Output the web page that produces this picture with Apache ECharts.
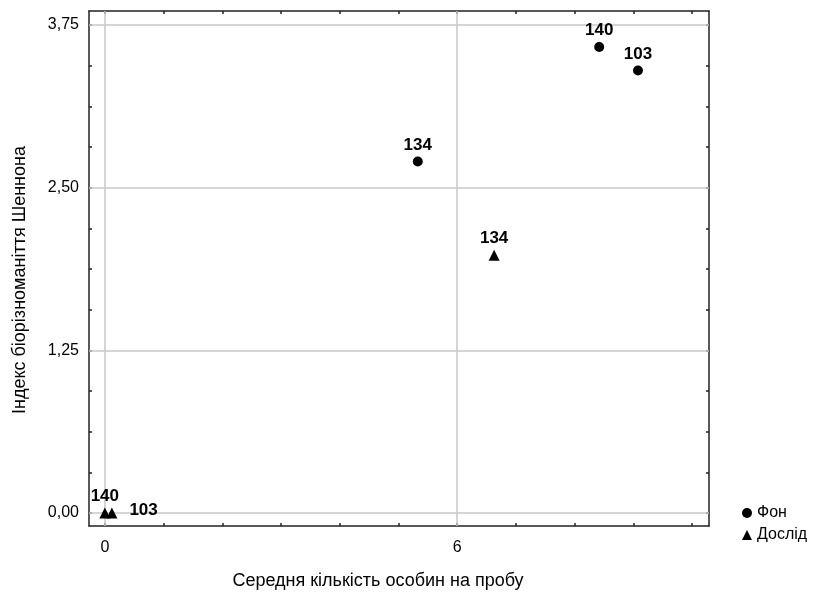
<!DOCTYPE html>
<html>
<head>
<meta charset="utf-8">
<script src="https://cdn.jsdelivr.net/npm/echarts@6/dist/echarts.min.js"></script>
<style>html,body{margin:0;padding:0;background:#fff;}#c{width:819px;height:592px;}</style>
</head>
<body>
<div id="c"></div>
<script>
// ---- data ----
var seriesNames = ['Фон', 'Дослід'];
var fonX = [5.33, 8.42, 9.08];
var fonY = [2.70, 3.58, 3.40];
var fonLabels = ['134', '140', '103'];
var doslidX = [6.63, 0.0, 0.12];
var doslidY = [1.98, 0.0, 0.0];
var doslidLabels = ['134', '140', '103'];
var xTickLabels = [0, 6];
var yTickLabels = [0, 1.25, 2.5, 3.75];
var xMinorTicks = [0, 1, 2, 3, 4, 5, 6, 7, 8, 9, 10];
var yMinorTicks = [0, 0.3125, 0.625, 0.9375, 1.25, 1.5625, 1.875, 2.1875, 2.5, 2.8125, 3.125, 3.4375, 3.75];
var xTitle = 'Середня кількість особин на пробу';
var yTitle = 'Індекс біорізноманіття Шеннона';

var FONT = '"Liberation Sans", Arial, sans-serif';
var AXC = '#222';
var TXT = '#000';
var labelStyle = {show: true, position: 'top', distance: 3, fontFamily: FONT, fontWeight: 'bold', fontSize: 17, color: TXT};

function build(xs, ys, labs) {
  return xs.map(function (x, i) {
    return {value: [x, ys[i]], name: labs[i], label: {formatter: labs[i]}};
  });
}
var fonData = build(fonX, fonY, fonLabels);
var doslidData = build(doslidX, doslidY, doslidLabels);
// the label of the second zero-point sits to its right
doslidData[2].label = {formatter: doslidLabels[2], position: 'right', distance: 12, offset: [0, -3]};

var fmtY = function (v) { return v.toFixed(2).replace('.', ','); };

var axisBase = {
  type: 'value',
  axisLine: {show: true, onZero: false, lineStyle: {color: AXC, width: 1.5}},
  splitLine: {show: false},
  axisTick: {show: true, inside: true, length: 3, lineStyle: {color: AXC, width: 1.5}}
};

var chart = echarts.init(document.getElementById('c'), null, {renderer: 'canvas'});
chart.setOption({
  animation: false,
  backgroundColor: '#fff',
  grid: {left: 89, top: 11, right: 110, bottom: 66, containLabel: false},
  legend: {
    orient: 'vertical', left: 737, top: 500, itemWidth: 10, itemHeight: 10, itemGap: 6,
    data: seriesNames,
    textStyle: {fontFamily: FONT, fontSize: 16, color: TXT}
  },
  graphic: [
    {type: 'text', x: 378, y: 581, silent: true,
     style: {text: xTitle, font: '18px "Liberation Sans", Arial, sans-serif', fill: TXT, textAlign: 'center', textVerticalAlign: 'middle'}},
    {type: 'text', x: 20, y: 280, rotation: Math.PI / 2, silent: true,
     style: {text: yTitle, font: '18px "Liberation Sans", Arial, sans-serif', fill: TXT, textAlign: 'center', textVerticalAlign: 'middle'}}
  ],
  xAxis: [
    Object.assign({}, axisBase, {
      position: 'bottom', min: -0.27, max: 10.29,
      axisTick: Object.assign({}, axisBase.axisTick, {customValues: xMinorTicks}),
      axisLabel: {customValues: xTickLabels, fontFamily: FONT, fontSize: 16, color: TXT, margin: 14}
    }),
    Object.assign({}, axisBase, {
      position: 'top', min: -0.27, max: 10.29,
      axisTick: Object.assign({}, axisBase.axisTick, {customValues: xMinorTicks}),
      axisLabel: {show: false}
    })
  ],
  yAxis: [
    Object.assign({}, axisBase, {
      position: 'left', min: -0.1, max: 3.857,
      axisTick: Object.assign({}, axisBase.axisTick, {customValues: yMinorTicks}),
      axisLabel: {customValues: yTickLabels, formatter: fmtY, fontFamily: FONT, fontSize: 16, color: TXT, margin: 10}
    }),
    Object.assign({}, axisBase, {
      position: 'right', min: -0.1, max: 3.857,
      axisTick: Object.assign({}, axisBase.axisTick, {customValues: yMinorTicks}),
      axisLabel: {show: false}
    })
  ],
  series: [
    {
      name: 'grid', type: 'scatter', data: [], z: 1, silent: true,
      markLine: {
        silent: true, symbol: 'none', label: {show: false}, animation: false,
        lineStyle: {color: '#c8c8c8', width: 1.5, type: 'solid'},
        data: xTickLabels.map(function (v) { return {xAxis: v}; })
          .concat(yTickLabels.map(function (v) { return {yAxis: v}; }))
      }
    },
    {
      name: seriesNames[0], type: 'scatter', symbol: 'circle', symbolSize: 10, z: 5,
      itemStyle: {color: '#000', opacity: 1}, label: labelStyle, data: fonData
    },
    {
      name: seriesNames[1], type: 'scatter', symbol: 'triangle', symbolSize: 11, z: 5,
      itemStyle: {color: '#000', opacity: 1}, label: labelStyle, data: doslidData
    }
  ]
});
</script>
</body>
</html>
